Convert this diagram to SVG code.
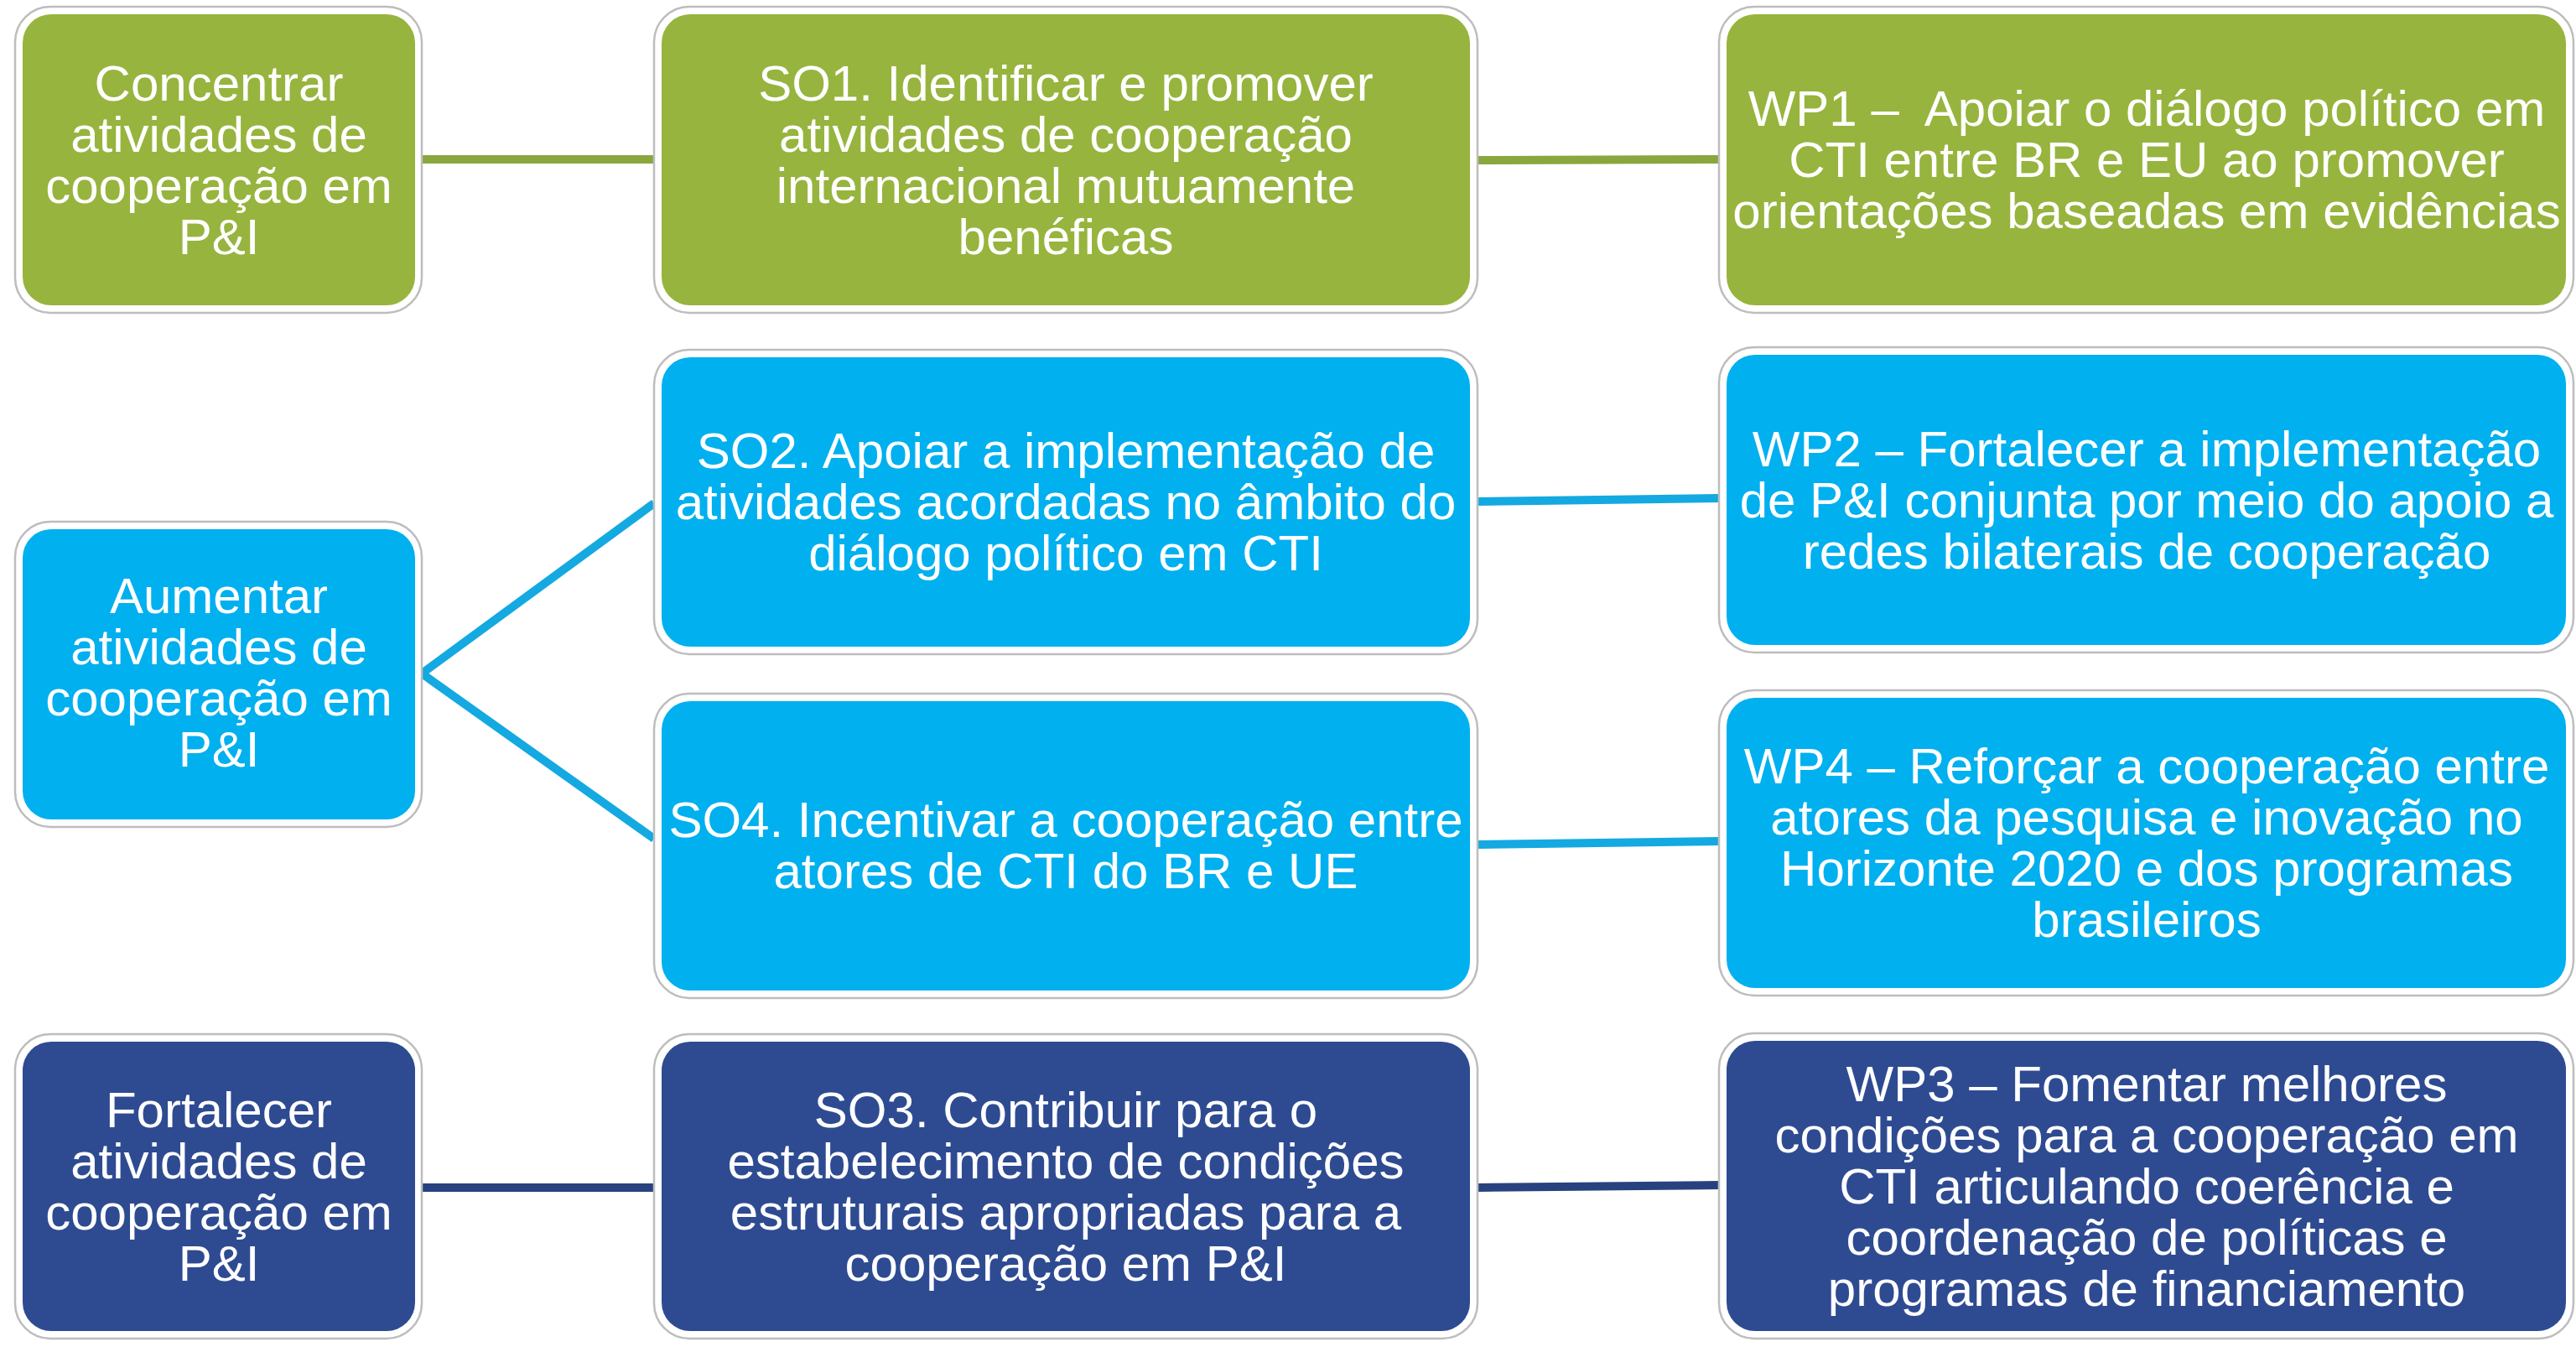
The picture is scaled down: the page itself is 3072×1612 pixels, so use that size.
<svg xmlns="http://www.w3.org/2000/svg" width="3072" height="1612" viewBox="0 0 3072 1612">
<style>
.frame{fill:#ffffff;stroke:#bdbdbd;stroke-width:2.5}
.g{fill:#97b43e}
.b{fill:#00b0ef}
.n{fill:#2e4b92}
.t{font-family:"Liberation Sans",Arial,sans-serif;font-size:60px;fill:#ffffff;text-anchor:middle;white-space:pre}
.lg{stroke:#8aa63f;stroke-width:10;fill:none}
.lb{stroke:#14a9e0;stroke-width:10;fill:none}
.ln{stroke:#27427f;stroke-width:10;fill:none}
</style>
<rect width="3072" height="1612" fill="#ffffff"/>
<g id="connectors">
<line class="lg" x1="503" y1="190" x2="780" y2="190"/>
<line class="lg" x1="1762" y1="191" x2="2050" y2="190"/>
<line class="lb" x1="503" y1="803" x2="780" y2="600"/>
<line class="lb" x1="503" y1="803" x2="780" y2="1000"/>
<line class="lb" x1="1762" y1="598" x2="2050" y2="594"/>
<line class="lb" x1="1762" y1="1007" x2="2050" y2="1003"/>
<line class="ln" x1="503" y1="1416" x2="780" y2="1416"/>
<line class="ln" x1="1762" y1="1416" x2="2050" y2="1413"/>
</g>
<g id="c1r1">
<rect class="frame" x="18" y="8" width="485" height="365" rx="42"/>
<rect class="g" x="27" y="17" width="468" height="347" rx="34"/>
<text class="t" y="120"><tspan x="261">Concentrar</tspan><tspan x="261" dy="61">atividades de</tspan><tspan x="261" dy="61">cooperação em</tspan><tspan x="261" dy="61">P&amp;I</tspan></text>
</g>
<g id="so1">
<rect class="frame" x="780" y="8" width="982" height="365" rx="42"/>
<rect class="g" x="789" y="17" width="964" height="347" rx="34"/>
<text class="t" y="120"><tspan x="1271">SO1. Identificar e promover</tspan><tspan x="1271" dy="61">atividades de cooperação</tspan><tspan x="1271" dy="61">internacional mutuamente</tspan><tspan x="1271" dy="61">benéficas</tspan></text>
</g>
<g id="wp1">
<rect class="frame" x="2050" y="8" width="1019" height="365" rx="42"/>
<rect class="g" x="2059" y="17" width="1001" height="347" rx="34"/>
<text class="t" y="150"><tspan x="2560">WP1 –  Apoiar o diálogo político em</tspan><tspan x="2560" dy="61">CTI entre BR e EU ao promover</tspan><tspan x="2560" dy="61">orientações baseadas em evidências</tspan></text>
</g>
<g id="so2">
<rect class="frame" x="780" y="417" width="982" height="363" rx="42"/>
<rect class="b" x="789" y="426" width="964" height="345" rx="34"/>
<text class="t" y="558"><tspan x="1271">SO2. Apoiar a implementação de</tspan><tspan x="1271" dy="61">atividades acordadas no âmbito do</tspan><tspan x="1271" dy="61">diálogo político em CTI</tspan></text>
</g>
<g id="wp2">
<rect class="frame" x="2050" y="414" width="1019" height="364" rx="42"/>
<rect class="b" x="2059" y="423" width="1001" height="346" rx="34"/>
<text class="t" y="556"><tspan x="2560">WP2 – Fortalecer a implementação</tspan><tspan x="2560" dy="61">de P&amp;I conjunta por meio do apoio a</tspan><tspan x="2560" dy="61">redes bilaterais de cooperação</tspan></text>
</g>
<g id="c1r2">
<rect class="frame" x="18" y="622" width="485" height="364" rx="42"/>
<rect class="b" x="27" y="631" width="468" height="346" rx="34"/>
<text class="t" y="731"><tspan x="261">Aumentar</tspan><tspan x="261" dy="61">atividades de</tspan><tspan x="261" dy="61">cooperação em</tspan><tspan x="261" dy="61">P&amp;I</tspan></text>
</g>
<g id="so4">
<rect class="frame" x="780" y="827" width="982" height="363" rx="42"/>
<rect class="b" x="789" y="836" width="964" height="345" rx="34"/>
<text class="t" y="998"><tspan x="1271">SO4. Incentivar a cooperação entre</tspan><tspan x="1271" dy="61">atores de CTI do BR e UE</tspan></text>
</g>
<g id="wp4">
<rect class="frame" x="2050" y="823" width="1019" height="364" rx="42"/>
<rect class="b" x="2059" y="832" width="1001" height="346" rx="34"/>
<text class="t" y="934"><tspan x="2560">WP4 – Reforçar a cooperação entre</tspan><tspan x="2560" dy="61">atores da pesquisa e inovação no</tspan><tspan x="2560" dy="61">Horizonte 2020 e dos programas</tspan><tspan x="2560" dy="61">brasileiros</tspan></text>
</g>
<g id="c1r3">
<rect class="frame" x="18" y="1233" width="485" height="363" rx="42"/>
<rect class="n" x="27" y="1242" width="468" height="345" rx="34"/>
<text class="t" y="1344"><tspan x="261">Fortalecer</tspan><tspan x="261" dy="61">atividades de</tspan><tspan x="261" dy="61">cooperação em</tspan><tspan x="261" dy="61">P&amp;I</tspan></text>
</g>
<g id="so3">
<rect class="frame" x="780" y="1233" width="982" height="363" rx="42"/>
<rect class="n" x="789" y="1242" width="964" height="345" rx="34"/>
<text class="t" y="1344"><tspan x="1271">SO3. Contribuir para o</tspan><tspan x="1271" dy="61">estabelecimento de condições</tspan><tspan x="1271" dy="61">estruturais apropriadas para a</tspan><tspan x="1271" dy="61">cooperação em P&amp;I</tspan></text>
</g>
<g id="wp3">
<rect class="frame" x="2050" y="1232" width="1019" height="364" rx="42"/>
<rect class="n" x="2059" y="1241" width="1001" height="346" rx="34"/>
<text class="t" y="1313"><tspan x="2560">WP3 – Fomentar melhores</tspan><tspan x="2560" dy="61">condições para a cooperação em</tspan><tspan x="2560" dy="61">CTI articulando coerência e</tspan><tspan x="2560" dy="61">coordenação de políticas e</tspan><tspan x="2560" dy="61">programas de financiamento</tspan></text>
</g>
</svg>
